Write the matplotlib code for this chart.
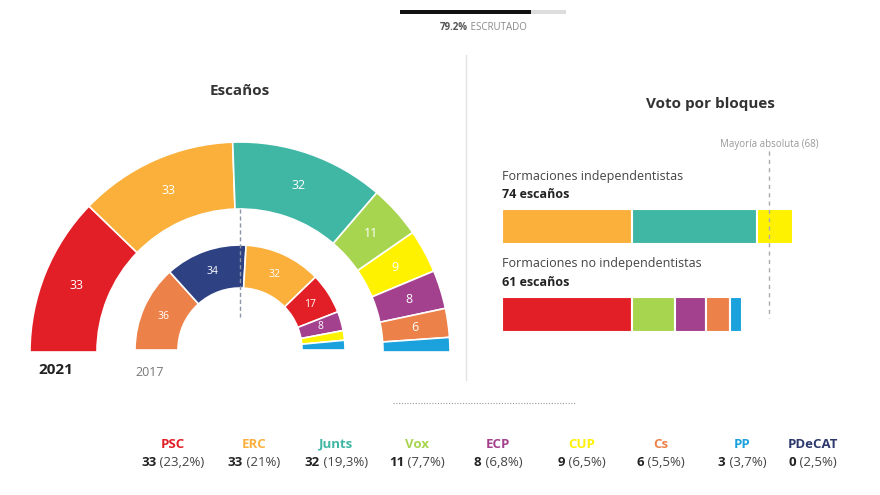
import numpy as np
import matplotlib
matplotlib.use("Agg")
from matplotlib import pyplot as plt
from matplotlib.patches import Wedge

plt.rcParams['font.family'] = ['Open Sans', 'DejaVu Sans']

# datos
partidos = ['PSC', 'ERC', 'Junts', 'Vox', 'ECP', 'CUP', 'Cs', 'PP', 'PDeCAT']
escanos = [33, 33, 32, 11, 8, 9, 6, 3, 0]
porcentajes = ['23,2%', '21%', '19,3%', '7,7%', '6,8%', '6,5%', '5,5%', '3,7%', '2,5%']

orden_2021 = ['PSC', 'ERC', 'Junts', 'Vox', 'CUP', 'ECP', 'Cs', 'PP']
escanos_2021 = [33, 33, 32, 11, 9, 8, 6, 3]
orden_2017 = ['Cs', 'JxCat', 'ERC', 'PSC', 'ECP', 'CUP', 'PP']
escanos_2017 = [36, 34, 32, 17, 8, 4, 4]

bloque_indep = ['ERC', 'Junts', 'CUP']
escanos_indep = [33, 32, 9]
bloque_no_indep = ['PSC', 'Vox', 'ECP', 'Cs', 'PP']
escanos_no_indep = [33, 11, 8, 6, 3]
mayoria = 68
escrutado = 79.2

colores = {
    'PSC': '#e21f26', 'ERC': '#fbb03b', 'Junts': '#40b7a4', 'Vox': '#a8d54f',
    'CUP': '#fff200', 'ECP': '#a3418f', 'Cs': '#ec8149', 'PP': '#1ba1dc',
    'JxCat': '#2e4182', 'PDeCAT': '#2e3a6e',
}

fig = plt.figure(figsize=(8.8, 4.95), dpi=100)
ax = fig.add_axes([0, 0, 1, 1])
ax.set_xlim(0, 880)
ax.set_ylim(495, 0)
ax.axis('off')


def hemiciclo(nombres, valores, cx, cy, r_in, r_out, minimo, fsize):
    total = sum(valores)
    ang = 180.0
    for n, v in zip(nombres, valores):
        a2 = ang - 180.0 * v / total
        # eje y invertido: angulos negativos para dibujar hacia arriba
        ax.add_patch(Wedge((cx, cy), r_out, -ang, -a2, width=r_out - r_in,
                           facecolor=colores[n], edgecolor='white', linewidth=1.2))
        if v >= minimo:
            mid = np.radians((ang + a2) / 2)
            r = (r_in + r_out) / 2
            ax.text(cx + r * np.cos(mid), cy - r * np.sin(mid), str(v),
                    color='white', fontsize=fsize, ha='center', va='center')
        ang = a2


ax.text(240, 91, 'Escaños', fontsize=11, fontweight='bold', color='#333333',
        ha='center', va='center')
hemiciclo(orden_2021, escanos_2021, 240, 352, 143, 210, 5, 9)
hemiciclo(orden_2017, escanos_2017, 240, 350, 62, 105, 5, 7.5)
ax.plot([240, 240], [209, 317], color='#8a96a8', linewidth=1, linestyle=(0, (3, 2)))
ax.text(38, 370, '2021', fontsize=11, fontweight='bold', color='#222222', va='center')
ax.text(135, 372, '2017', fontsize=9, color='#777777', va='center')

# separador
ax.plot([466, 466], [55, 380], color='#e3e3e3', linewidth=1)

# barra de escrutinio
ax.barh(12, 166 * escrutado / 100, left=400, height=4, color='#111111')
ax.barh(12, 166 * (1 - escrutado / 100), left=400 + 166 * escrutado / 100,
        height=4, color='#dddddd')

renderer = fig.canvas.get_renderer()


def texto_doble(x, y, t1, t2, fs, c1, c2, sep=0):
    a = ax.text(x, y, t1, fontsize=fs, fontweight='bold', color=c1, va='center')
    b = ax.text(x, y, t2, fontsize=fs, color=c2, va='center')
    w1 = a.get_window_extent(renderer).width
    w2 = b.get_window_extent(renderer).width
    x0 = x - (w1 + sep + w2) / 2
    a.set_x(x0)
    b.set_x(x0 + w1 + sep)


texto_doble(483, 27, '79.2%', ' ESCRUTADO', 7, '#555555', '#888888')

# bloques
ax.text(710, 104, 'Voto por bloques', fontsize=11, fontweight='bold',
        color='#333333', ha='center', va='center')

ax2 = fig.add_axes([502 / 880, (495 - 340) / 495, 3.93 * 80 / 880, 200 / 495])
ax2.set_xlim(0, 80)
ax2.set_ylim(340, 140)
ax2.axis('off')
ax2.patch.set_alpha(0)

for fila, nombres, valores, titulo in [
        (226.5, bloque_indep, escanos_indep, 'Formaciones independentistas'),
        (314, bloque_no_indep, escanos_no_indep, 'Formaciones no independentistas')]:
    izq = 0
    for n, v in zip(nombres, valores):
        ax2.barh(fila, v, left=izq, height=35, color=colores[n],
                 edgecolor='white', linewidth=1.5)
        izq += v
    ax2.text(0, fila - 50, titulo, fontsize=9, color='#444444', va='center')
    ax2.text(0, fila - 32, '%d escaños' % sum(valores), fontsize=9,
             fontweight='bold', color='#222222', va='center')

ax2.plot([mayoria, mayoria], [151, 318], color='#aaaaaa', linewidth=1,
         linestyle=(0, (3, 3)))
ax2.text(mayoria, 145, 'Mayoría absoluta (68)', fontsize=7, color='#999999',
         ha='center', va='center')

# linea punteada
ax.plot([393, 575], [403, 403], color='#999999', linewidth=0.8, linestyle=(0, (1, 1.5)))

# leyenda
pos_x = [173, 254, 336, 417, 498, 582, 661, 742, 813]
for x, p, e, pc in zip(pos_x, partidos, escanos, porcentajes):
    ax.text(x, 444, p, fontsize=9.5, fontweight='bold', color=colores[p],
            ha='center', va='center')
    texto_doble(x, 463, str(e), ' (%s)' % pc, 9.5, '#222222', '#444444')

fig.savefig('out.png', dpi=100, facecolor='white')
